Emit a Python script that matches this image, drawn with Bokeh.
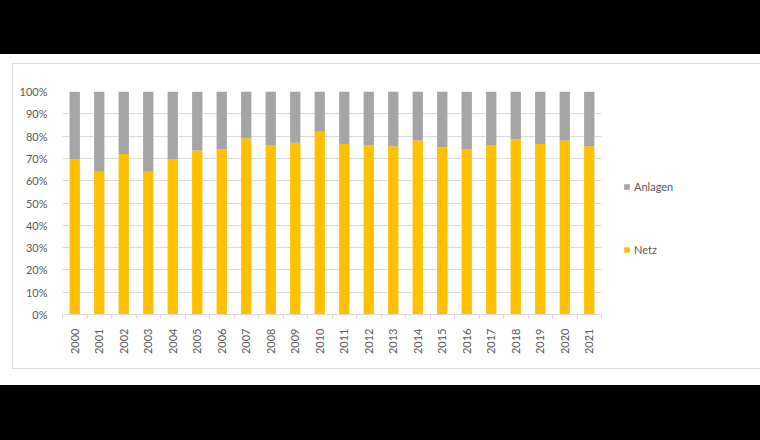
from bokeh.plotting import figure
from bokeh.models import (ColumnDataSource, Legend, LegendItem, FixedTicker,
                          PrintfTickFormatter, Div, Range1d)
from bokeh.layouts import column
from bokeh.embed import file_html
from bokeh.resources import INLINE
import math

years = ["2000", "2001", "2002", "2003", "2004", "2005", "2006", "2007", "2008", "2009", "2010",
         "2011", "2012", "2013", "2014", "2015", "2016", "2017", "2018", "2019", "2020", "2021"]
netz = [69.5, 64, 72, 64, 69.5, 73.5, 74, 79, 76, 77, 82,
        76.5, 76, 75.5, 78, 75, 74, 76, 78.5, 76.5, 78, 75.5]
anlagen = [30.5, 36, 28, 36, 30.5, 26.5, 26, 21, 24, 23, 18,
           23.5, 24, 24.5, 22, 25, 26, 24, 21.5, 23.5, 22, 24.5]
pct_ticks = [0, 10, 20, 30, 40, 50, 60, 70, 80, 90, 100]
series_names = ["Netz", "Anlagen"]
colors = ["#FFC000", "#A5A5A5"]

FONT = "Lato"
TXT = "#595959"

pos = list(range(len(years)))
src = ColumnDataSource(dict(x=pos, netz=netz, anlagen=anlagen))

p = figure(frame_width=537, frame_height=221, output_backend="svg", toolbar_location=None,
           x_range=Range1d(-0.5, len(years) - 0.5), y_range=Range1d(0, 100),
           min_border_left=49, min_border_right=113, min_border_top=27, min_border_bottom=56,
           margin=(9, 0, 16, 12),
           styles={"border": "1px solid #D9D9D9", "box-sizing": "border-box"})
p.outline_line_color = None
p.background_fill_color = "white"
p.border_fill_color = "white"

rs = p.vbar_stack(["netz", "anlagen"], x="x", width=0.42, color=colors, source=src,
                  line_color=None)

# axes
p.xaxis.ticker = FixedTicker(ticks=pos, minor_ticks=[i - 0.5 for i in range(len(years) + 1)])
p.xaxis.major_label_overrides = {i: y for i, y in enumerate(years)}
p.xaxis.major_label_orientation = math.pi / 2
p.xaxis.axis_line_color = "#D9D9D9"
p.xaxis.major_tick_line_color = None
p.xaxis.minor_tick_line_color = "#D9D9D9"
p.xaxis.minor_tick_out = 4
p.xaxis.minor_tick_in = 0
p.xaxis.major_label_standoff = 8
p.xaxis.major_label_text_font = FONT
p.xaxis.major_label_text_font_size = "11px"
p.xaxis.major_label_text_color = TXT

p.yaxis.ticker = FixedTicker(ticks=pct_ticks, minor_ticks=[])
p.yaxis.formatter = PrintfTickFormatter(format="%d%%")
p.yaxis.axis_line_color = None
p.yaxis.major_tick_line_color = None
p.yaxis.minor_tick_line_color = None
p.yaxis.major_label_standoff = 9
p.yaxis.major_label_text_font = FONT
p.yaxis.major_label_text_font_size = "11px"
p.yaxis.major_label_text_color = TXT

p.xgrid.grid_line_color = None
p.ygrid.grid_line_color = "#D9D9D9"
p.ygrid.ticker = FixedTicker(ticks=pct_ticks)

legend = Legend(items=[LegendItem(label=series_names[1], renderers=[rs[1]]),
                       LegendItem(label=series_names[0], renderers=[rs[0]])],
                location=(22, 58), orientation="vertical",
                glyph_width=7, glyph_height=7, label_height=14, spacing=49,
                label_standoff=4, padding=0, margin=0,
                border_line_color=None, background_fill_alpha=0,
                label_text_font=FONT, label_text_font_size="11px", label_text_color=TXT)
p.add_layout(legend, "right")

top = Div(width=760, height=54, margin=0, styles={"background-color": "black"})
bottom = Div(width=760, height=55, margin=0, styles={"background-color": "black"})
layout = column(top, p, bottom, spacing=0, margin=0)

open("out.html", "w").write(file_html(layout, INLINE))
